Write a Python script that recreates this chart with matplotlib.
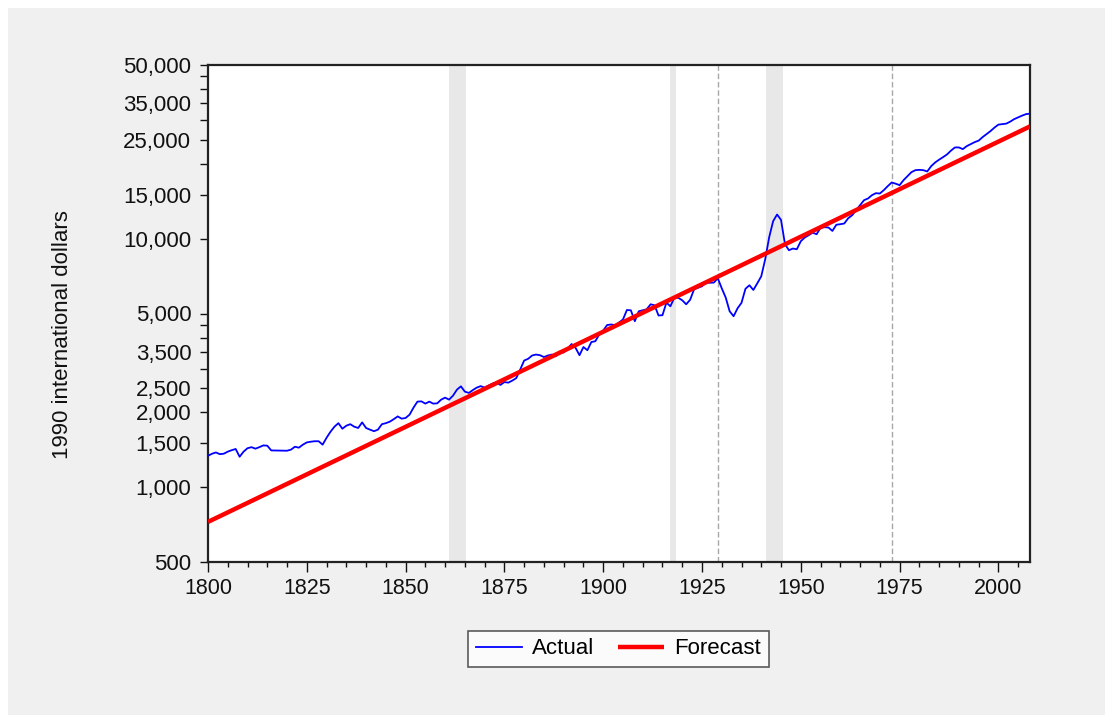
import matplotlib
matplotlib.use('Agg')
import matplotlib.pyplot as plt
from matplotlib.patches import Rectangle
from matplotlib.ticker import FixedLocator, FixedFormatter, NullLocator, MultipleLocator

plt.rcParams['font.family'] = ['Liberation Sans', 'DejaVu Sans']

# ---------------- data ----------------
years = list(range(1800, 2009))
actual = [
    1338, 1363, 1380, 1358, 1364, 1390, 1409, 1425, 1326, 1390,
    1435, 1449, 1429, 1449, 1473, 1469, 1406, 1405, 1405, 1402,
    1402, 1416, 1455, 1442, 1483, 1514, 1524, 1531, 1531, 1483,
    1581, 1672, 1752, 1810, 1719, 1768, 1793, 1752, 1731, 1823,
    1731, 1704, 1680, 1704, 1793, 1810, 1835, 1878, 1927, 1887,
    1899, 1958, 2090, 2210, 2215, 2169, 2210, 2169, 2175, 2251,
    2293, 2251, 2336, 2470, 2546, 2424, 2395, 2458, 2516, 2551,
    2516, 2563, 2611, 2635, 2580, 2648, 2635, 2685, 2747, 2974,
    3234, 3285, 3387, 3418, 3397, 3340, 3387, 3418, 3365, 3515,
    3483, 3614, 3768, 3638, 3397, 3665, 3557, 3838, 3867, 4115,
    4270, 4494, 4515, 4494, 4599, 4729, 5165, 5151, 4655, 5103,
    5151, 5199, 5445, 5395, 4908, 4922, 5532, 5345, 5784, 5784,
    5652, 5445, 5678, 6259, 6346, 6435, 6659, 6647, 6659, 6930,
    6316, 5796, 5103, 4876, 5247, 5522, 6287, 6495, 6218, 6616,
    7060, 8267, 10137, 11760, 12513, 11901, 9500, 8986, 9128, 9069,
    9768, 10110, 10327, 10570, 10423, 11070, 11122, 11093, 10746, 11383,
    11436, 11511, 12090, 12432, 13022, 13640, 14287, 14513, 14965, 15246,
    15196, 15676, 16269, 16834, 16650, 16420, 17200, 17850, 18526, 18871,
    18923, 18871, 18644, 19585, 20264, 20800, 21288, 21829, 22611, 23296,
    23296, 22930, 23577, 24017, 24469, 24807, 25627, 26349, 27095, 27986,
    28777, 28911, 29046, 29587, 30281, 30765, 31280, 31717, 31865,
]
forecast_years = [1800, 2008]
forecast = [725, 28300]

band_starts = [1861, 1917, 1941.2]
band_ends = [1865.3, 1918.4, 1945.5]
dashed_years = [1929, 1973]

ytick_values = [500, 1000, 1500, 2000, 2500, 3000, 3500, 4000, 4500, 5000,
                10000, 15000, 20000, 25000, 30000, 35000, 40000, 45000, 50000]
ytick_labels = ['500', '1,000', '1,500', '2,000', '2,500', '', '3,500', '', '', '5,000',
                '10,000', '15,000', '', '25,000', '', '35,000', '', '', '50,000']
xtick_values = [1800, 1825, 1850, 1875, 1900, 1925, 1950, 1975, 2000]

# ---------------- figure ----------------
W, H = 1105, 715
fig = plt.figure(figsize=(W / 100, H / 100), dpi=100)
fig.patch.set_facecolor('white')
fig.patches.append(Rectangle((8 / W, 0), 1, 1 - 8 / H, transform=fig.transFigure,
                             facecolor='#f0f0f0', edgecolor='none', zorder=-10))

ax = fig.add_axes([208 / W, 1 - 562 / H, (1030 - 208) / W, (562 - 65) / H])
ax.set_facecolor('white')

for s, e in zip(band_starts, band_ends):
    ax.axvspan(s, e, color='#e8e8e8', lw=0, zorder=0)
for x in dashed_years:
    ax.axvline(x, color='#a8a8a8', ls=(0, (4, 2)), lw=1.0, zorder=1)

l1, = ax.plot(years, actual, color='#0000ff', lw=1.3, zorder=3, label='Actual')
l2, = ax.plot(forecast_years, forecast, color='#ff0000', lw=3.2, zorder=4,
              solid_capstyle='butt', label='Forecast')

ax.set_yscale('log')
ax.set_ylim(500, 50000)
ax.set_xlim(1800, 2008)

ax.yaxis.set_major_locator(FixedLocator(ytick_values))
ax.yaxis.set_major_formatter(FixedFormatter(ytick_labels))
ax.yaxis.set_minor_locator(NullLocator())
ax.xaxis.set_major_locator(FixedLocator(xtick_values))
ax.xaxis.set_minor_locator(MultipleLocator(5))

ax.tick_params(axis='y', which='major', direction='out', length=6, width=1,
               labelsize=16, pad=6, colors='#111111')
ax.tick_params(axis='x', which='major', direction='out', length=7.5, width=1,
               labelsize=15.5, pad=4, colors='#111111')
ax.tick_params(axis='x', which='minor', direction='out', length=3.5, width=1,
               colors='#111111')

for side in ['top', 'right', 'bottom', 'left']:
    ax.spines[side].set_linewidth(1.6)
    ax.spines[side].set_color('#222222')

fig.text(62 / W, 1 - 335 / H, '1990 international dollars', rotation=90,
         ha='center', va='center', fontsize=16, color='#111111')

leg = fig.legend([l1, l2], ['Actual', 'Forecast'], loc='center',
                 bbox_to_anchor=(618.5 / W, 1 - 649 / H), ncol=2, frameon=True,
                 fancybox=False, fontsize=16, handlelength=2.05, handletextpad=0.45,
                 columnspacing=1.1, borderpad=0.35, borderaxespad=0)
leg.get_frame().set_edgecolor('#333333')
leg.get_frame().set_linewidth(1.2)
leg.get_frame().set_facecolor('white')

fig.savefig('out.png', dpi=100, facecolor=fig.get_facecolor())
